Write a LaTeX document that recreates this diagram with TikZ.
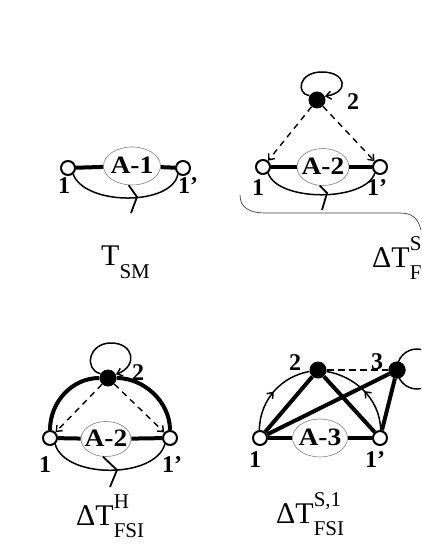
\documentclass[tikz,border=0pt]{standalone}
\usepackage{fontspec}
\setmainfont{Liberation Serif}
\usetikzlibrary{shapes.geometric,arrows.meta,decorations.markings}
\newcommand\supsub[2]{\rlap{\raisebox{0.55em}{\fontsize{21}{21}\selectfont #1}}\raisebox{-0.4em}{\fontsize{21}{21}\selectfont #2}}
\newcommand\blobtext[1]{\makebox[0pt]{\raisebox{1.5pt}{\scalebox{1.1}[1]{#1}}}}
\tikzset{
 vopen/.style={circle,draw,line width=2pt,fill=white,minimum size=14pt,inner sep=0},
 vfull/.style={circle,fill=black,minimum size=17pt,inner sep=0},
 blob/.style={ellipse,draw=gray,line width=0.6pt,fill=white,inner sep=0,font=\fontsize{25}{25}\selectfont\bfseries},
 prop/.style={line width=4pt},
 thinl/.style={line width=1.5pt},
 cutl/.style={line width=1.8pt},
 dsh/.style={line width=1.4pt,dash pattern=on 6pt off 5pt},
 barb/.style={-{Straight Barb[length=5pt,width=8pt]}},
 num/.style={font=\fontsize{24}{24}\selectfont\bfseries,inner sep=0},
 big/.style={font=\fontsize{30}{30}\selectfont,inner sep=0,anchor=base west},
 midbarb/.style={postaction={decorate},decoration={markings,mark=at position 0.5 with {\arrow{Straight Barb[length=5pt,width=8pt]}}}},
 brace/.style={line width=0.7pt,draw=black!75}
}
\begin{document}
\begin{tikzpicture}[x=1pt,y=-1pt]
\clip (0,0) rectangle (421,545);
\fill[white] (0,0) rectangle (421,545);

% ---------- panel 1 ----------
\node[blob,minimum width=57pt,minimum height=38pt] (a1) at (132,166) {\blobtext{A-1}};
\node[vopen] (p1a) at (68,168) {};
\node[vopen] (p1b) at (183,168) {};
\draw[prop] (p1a) -- (a1);
\draw[prop] (a1) -- (p1b);
\draw[thinl] (p1a.-50) .. controls (85,206) and (172,206) .. (p1b.-130);
\coordinate (k1) at (137,197);
\coordinate (k1e) at (131,213);
\draw[cutl] (a1.-100) -- (k1) -- (k1e);
\node[num] (l1a) at (64,186) {1};
\node[num] (l1b) at (188,186) {1'};
\node[big] (tsm) at (101,265) {T\raisebox{-0.45em}{\fontsize{21}{21}\selectfont SM}};

% ---------- panel 2 ----------
\node[blob,minimum width=52pt,minimum height=37pt] (a2) at (323,167) {\blobtext{A-2}};
\node[vopen] (p2a) at (263,167) {};
\node[vopen] (p2b) at (380,167) {};
\node[vfull] (p2c) at (317,100) {};
\draw[prop] (p2a) -- (a2);
\draw[prop] (a2) -- (p2b);
\draw[dsh,barb] (p2c) -- (p2a);
\draw[dsh,barb] (p2c) -- (p2b);
\draw[thinl,barb] (p2c.150) .. controls (296,94) and (298,72) .. (322,72) .. controls (346,72) and (350,92) .. (p2c.25);
\draw[thinl] (p2a.-50) .. controls (278,202) and (365,202) .. (p2b.-130);
\coordinate (k2) at (327,193);
\coordinate (k2e) at (322,210);
\draw[cutl] (a2.-100) -- (k2) -- (k2e);
\node[num] (l2a) at (258,188) {1};
\node[num] (l2b) at (377,188) {1'};
\node[num] (l2c) at (353,102) {2};
\draw[brace] (240,195) .. controls (240,208) and (250,213) .. (265,213) -- (400,213) .. controls (412,213) and (418,218) .. (421,230);
\node[big] (ts2) at (372,267) {ΔT\supsub{S}{F}};

% ---------- panel 3 ----------
\node[blob,minimum width=50pt,minimum height=35pt] (a3) at (106,439) {\blobtext{A-2}};
\node[vopen] (p3a) at (50,438) {};
\node[vopen] (p3b) at (170,438) {};
\node[vfull] (p3c) at (108,378) {};
\draw[prop] (p3a) -- (a3);
\draw[prop] (a3) -- (p3b);
\draw[prop] (p3a) .. controls (50,402) and (72,378) .. (p3c);
\draw[prop] (p3b) .. controls (170,402) and (144,378) .. (p3c);
\draw[dsh,barb] (p3c) -- (p3a);
\draw[dsh,barb] (p3c) -- (p3b);
\draw[thinl,barb] (p3c.150) .. controls (84,370) and (88,343) .. (111,343) .. controls (134,343) and (138,366) .. (p3c.25);
\draw[thinl] (p3a.-50) .. controls (65,479) and (155,479) .. (p3b.-130);
\coordinate (k3) at (117,470);
\coordinate (k3e) at (110,487);
\draw[cutl] (a3.-100) -- (k3) -- (k3e);
\node[num] (l3a) at (45,465) {1};
\node[num] (l3b) at (172,465) {1'};
\node[num] (l3c) at (138,373) {2};
\node[big] (th) at (76,525) {ΔT\supsub{H}{FSI}};

% ---------- panel 4 ----------
\node[blob,minimum width=55pt,minimum height=38pt] (a4) at (320,438) {\blobtext{A-3}};
\node[vopen] (p4a) at (260,438) {};
\node[vopen] (p4b) at (380,438) {};
\node[vfull] (p4c) at (318,370) {};
\node[vfull] (p4d) at (397,370) {};
\coordinate (lc4) at (417,369);
\draw[thinl] (lc4) circle[radius=20];
\draw[prop] (p4a) -- (a4);
\draw[prop] (a4) -- (p4b);
\draw[prop] (p4a) -- (p4c);
\draw[prop] (p4c) -- (p4b);
\draw[prop] (p4a) -- (p4d);
\draw[prop] (p4b) -- (p4d);
\draw[line width=2.2pt,dash pattern=on 7pt off 4pt] (p4c) -- (p4d);
\draw[thinl,midbarb] (p4a.95) .. controls (260,398) and (283,376) .. (p4c.-170);
\draw[thinl,midbarb] (p4b.85) .. controls (380,398) and (354,376) .. (p4c.-10);
\node[vfull] at (p4d) {};
\node[num] (l4a) at (255,460) {1};
\node[num] (l4b) at (375,460) {1'};
\node[num] (l4c) at (295,363) {2};
\node[num] (l4d) at (377,362) {3};
\node[big] (ts1) at (276,523) {ΔT\supsub{S,1}{FSI}};
\end{tikzpicture}
\end{document}
